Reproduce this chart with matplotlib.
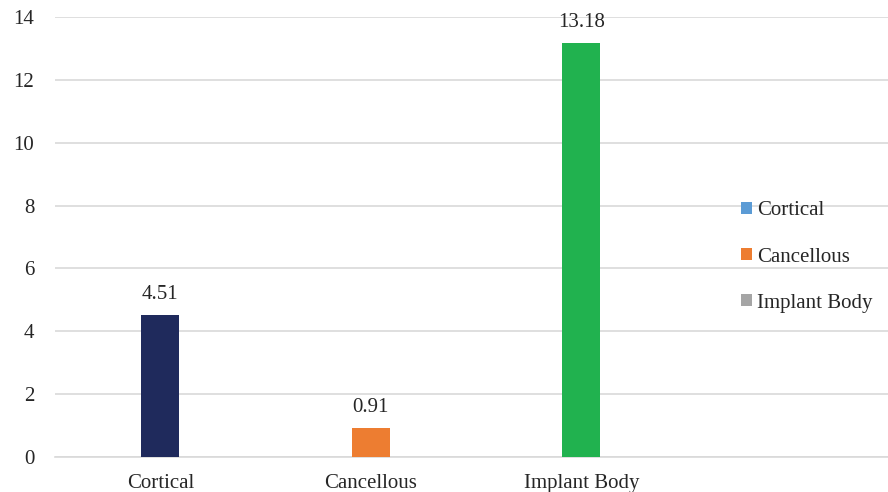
import matplotlib
matplotlib.use("Agg")
import matplotlib.pyplot as plt
from matplotlib.patches import Patch

categories = ["Cortical", "Cancellous", "Implant Body"]
values = [4.51, 0.91, 13.18]
bar_colors = ["#1f2a5c", "#ed7d31", "#21b24f"]
legend_labels = ["Cortical", "Cancellous", "Implant Body"]
legend_colors = ["#5b9bd5", "#ed7d31", "#a5a5a5"]
yticks = [0, 2, 4, 6, 8, 10, 12, 14]

plt.rcParams['font.family'] = ['Liberation Serif', 'DejaVu Serif']
FS = 15

fig = plt.figure(figsize=(8.88, 4.92), dpi=100)
ax = fig.add_axes([55/888, 1-457/492, (897-55)/888, (457-17)/492])

x = list(range(len(categories)))
bars = ax.bar(x, values, width=0.18, color=bar_colors, zorder=3)
for xi, v in zip(x, values):
    ax.annotate(f"{v:.2f}", (xi, v), xytext=(0, 8), textcoords="offset points",
                ha="center", va="bottom", fontsize=FS, color="#262626")

ax.set_xlim(-0.5, 3.5)
ax.set_ylim(0, 14)
ax.set_yticks(yticks)
ax.set_yticklabels([str(t) for t in yticks], fontsize=FS, color="#262626")
ax.set_xticks(x)
ax.set_xticklabels(categories, fontsize=FS, color="#262626")
ax.tick_params(axis="both", length=0)
ax.tick_params(axis="y", pad=15)
ax.tick_params(axis="x", pad=12)
ax.grid(axis="y", color="#d9d9d9", linewidth=1.2, zorder=0)
for s in ["top", "right", "left"]:
    ax.spines[s].set_visible(False)
ax.spines["bottom"].set_color("#d9d9d9")
ax.spines["bottom"].set_linewidth(1.2)

handles = [Patch(facecolor=c, label=l) for c, l in zip(legend_colors, legend_labels)]
leg = fig.legend(handles=handles, loc="center left", bbox_to_anchor=(731/888, 1-257/492),
                 frameon=False, fontsize=FS, handlelength=0.5, handleheight=0.5,
                 handletextpad=0.25, labelspacing=1.3, borderpad=0)
for t in leg.get_texts():
    t.set_color("#262626")

fig.savefig("out.png", dpi=100)
